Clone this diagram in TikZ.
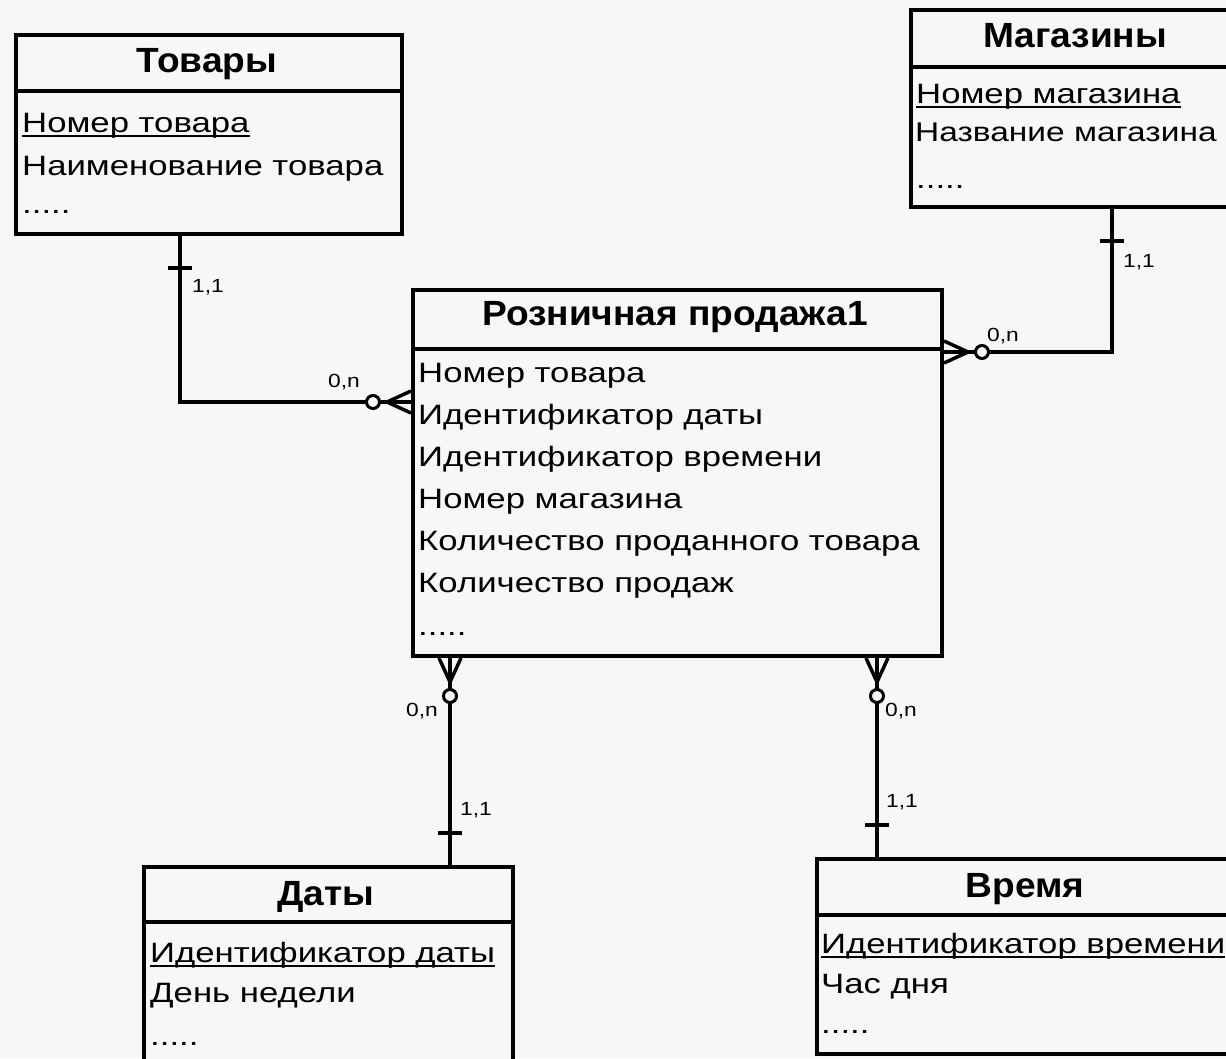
\documentclass[tikz,border=0pt]{standalone}
\usepackage{fontspec}
\setmainfont{Liberation Sans}
\newfontfamily\attrfont[FakeStretch=1.24]{Liberation Sans}
\newfontfamily\headfont[FakeStretch=1.06]{Liberation Sans}
\newfontfamily\cardfont[FakeStretch=1.2]{Liberation Sans}
\usetikzlibrary{calc}
\definecolor{paper}{RGB}{247,247,247}

\tikzset{
  entity/.style={draw=black, line width=4pt, fill=paper, rectangle, inner sep=0pt, anchor=north west},
  title/.style={font=\headfont\bfseries\fontsize{35}{35}\selectfont, inner sep=0pt, anchor=base},
  attr/.style={font=\attrfont\fontsize{28}{28}\selectfont, inner sep=0pt, anchor=base west},
  card/.style={font=\cardfont\fontsize{19}{19}\selectfont, inner sep=0pt},
  link/.style={line width=4pt},
  keyline/.style={line width=2pt},
  sepline/.style={line width=4pt},
  % "many" end: crow's foot with optional circle, box edge at the origin
  crowfoot/.pic={
    \draw[line width=3.5pt] (-24,0) -- (0,-11) (-24,0) -- (0,0) (-24,0) -- (0,11);
    \draw[line width=3pt, fill=paper] (-38,0) circle (6.5pt);
  },
  % "one" end: single bar across the line
  onebar/.pic={
    \draw[line width=3.5pt] (-32,-12) -- (-32,12);
  }
}

\begin{document}
\begin{tikzpicture}[x=1pt,y=-1pt]
\useasboundingbox (0,0) rectangle (1226,1058);
\fill[paper] (0,0) rectangle (1226,1058);
\clip (0,0) rectangle (1226,1058);

% ---------- entities ----------
\node[entity, minimum width=386pt, minimum height=199pt] (tov) at (14,33) {};
\node[entity, minimum width=332pt, minimum height=197pt] (mag) at (909,8) {};
\node[entity, minimum width=529pt, minimum height=366pt] (sale) at (411,288) {};
\node[entity, minimum width=369pt, minimum height=215pt] (dat) at (142,865) {};
\node[entity, minimum width=420pt, minimum height=195pt] (vrem) at (815,857) {};

% header separators
\draw[sepline] (tov.west |- 0,91) -- (tov.east |- 0,91);
\draw[sepline] (mag.west |- 0,67) -- (mag.east |- 0,67);
\draw[sepline] (sale.west |- 0,349) -- (sale.east |- 0,349);
\draw[sepline] (dat.west |- 0,922) -- (dat.east |- 0,922);
\draw[sepline] (vrem.west |- 0,915) -- (vrem.east |- 0,915);

% ---------- Товары ----------
\node[title] (tovT) at (207,72) {Товары};
\node[attr] (tovK) at (22,132) {Номер товара};
\draw[keyline] ($(tovK.base west)+(0,4)$) -- ($(tovK.base east)+(0,4)$);
\node[attr] (tovA) at (22,175) {Наименование товара};
\node[attr] (tovD) at (22,213) {.....};

% ---------- Магазины ----------
\node[title] (magT) at (1075,47) {Магазины};
\node[attr] (magK) at (916,103) {Номер магазина};
\draw[keyline] ($(magK.base west)+(0,4)$) -- ($(magK.base east)+(0,4)$);
\node[attr, font=\attrfont\fontsize{27}{28}\selectfont] (magA) at (915,141) {Название магазина};
\node[attr] (magD) at (916,188) {.....};

% ---------- Розничная продажа1 ----------
\node[title] (saleT) at (675,325) {Розничная продажа1};
\node[attr] (saleA1) at (418,382) {Номер товара};
\node[attr] (saleA2) at (418,424) {Идентификатор даты};
\node[attr] (saleA3) at (418,466) {Идентификатор времени};
\node[attr] (saleA4) at (418,508) {Номер магазина};
\node[attr] (saleA5) at (418,550) {Количество проданного товара};
\node[attr] (saleA6) at (418,592) {Количество продаж};
\node[attr] (saleD) at (418,635) {.....};

% ---------- Даты ----------
\node[title] (datT) at (326,905) {Даты};
\node[attr] (datK) at (150,962) {Идентификатор даты};
\draw[keyline] ($(datK.base west)+(0,4)$) -- ($(datK.base east)+(0,4)$);
\node[attr] (datA) at (150,1002) {День недели};
\node[attr] (datD) at (150,1045) {.....};

% ---------- Время ----------
\node[title] (vremT) at (1025,897) {Время};
\node[attr] (vremK) at (821,953) {Идентификатор времени};
\draw[keyline] ($(vremK.base west)+(0,4)$) -- ($(vremK.base east)+(0,4)$);
\node[attr] (vremA) at (821,993) {Час дня};
\node[attr] (vremD) at (821,1033) {.....};

% ---------- relationships ----------
% Товары -- Розничная продажа1
\draw[link] (tov.south -| 180,0) |- (sale.west |- 0,402);
\pic[rotate=90] at (tov.south -| 180,0) {onebar};
\pic at (sale.west |- 0,402) {crowfoot};
\node[card] (c1a) at (208,287) {1,1};
\node[card] (c1b) at (344,382) {0,n};

% Магазины -- Розничная продажа1
\draw[link] (mag.south -| 1112,0) |- (sale.east |- 0,352);
\pic[rotate=90] at (mag.south -| 1112,0) {onebar};
\pic[rotate=180] at (sale.east |- 0,352) {crowfoot};
\node[card] (c2a) at (1139,262) {1,1};
\node[card] (c2b) at (1003,336) {0,n};

% Даты -- Розничная продажа1
\draw[link] (sale.south -| 450,0) -- (dat.north -| 450,0);
\pic[rotate=90] at (sale.south -| 450,0) {crowfoot};
\pic[rotate=-90] at (dat.north -| 450,0) {onebar};
\node[card] (c3a) at (476,810) {1,1};
\node[card] (c3b) at (422,711) {0,n};

% Время -- Розничная продажа1
\draw[link, line width=3.5pt] (sale.south -| 877,0) -- (vrem.north -| 877,0);
\pic[rotate=90] at (sale.south -| 877,0) {crowfoot};
\pic[rotate=-90] at (vrem.north -| 877,0) {onebar};
\node[card] (c4a) at (902,802) {1,1};
\node[card] (c4b) at (901,711) {0,n};
\end{tikzpicture}
\end{document}
